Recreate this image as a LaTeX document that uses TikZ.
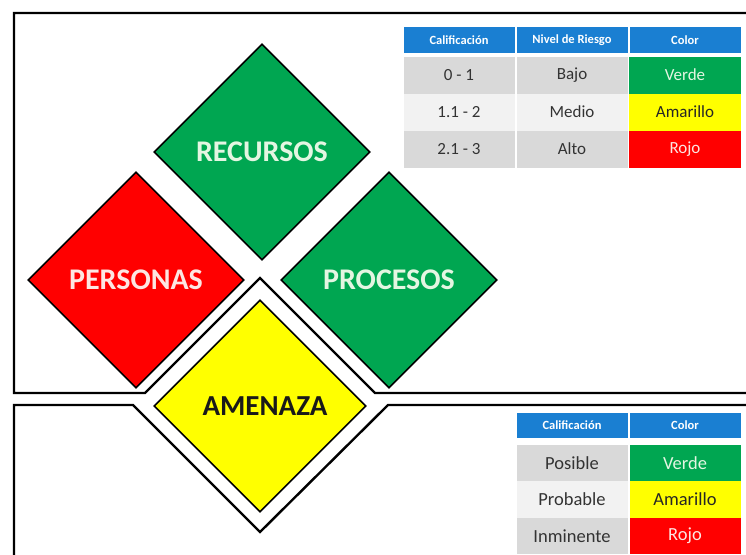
\documentclass[tikz,border=0pt]{standalone}
\usepackage{fontspec}
\setmainfont{Carlito}
\usetikzlibrary{shapes.geometric}
\definecolor{riskgreen}{HTML}{00A651}
\definecolor{riskred}{HTML}{FF0000}
\definecolor{riskyellow}{HTML}{FFFF00}
\definecolor{headblue}{HTML}{1A7FD2}
\definecolor{rowgray}{HTML}{D9D9D9}
\definecolor{rowlight}{HTML}{F2F2F2}
\definecolor{mintwhite}{HTML}{E4F6E2}
\definecolor{pinkwhite}{HTML}{FDE6E2}

\begin{document}
\begin{tikzpicture}[x=1pt,y=-1pt,
    frame/.style={line width=2.4pt,line join=miter},
    riskbox/.style={diamond,aspect=1,draw=black,line width=1.6pt,minimum size=216pt,
      inner sep=0pt,font=\fontsize{30}{30}\selectfont\bfseries},
    headcell/.style={fill=headblue,text=white,minimum width=111pt,inner sep=0pt,
      font=\fontsize{12.5}{13}\selectfont\bfseries},
    datacell/.style={minimum width=111pt,inner sep=0pt,text=black!80}
  ]
  \useasboundingbox (0,0) rectangle (746,554);

  % upper and lower frames
  \draw[frame] (746,13) -- (14,13) -- (14,393) -- (145,393) -- (260,278) -- (375,393) -- (746,393);
  \draw[frame] (14,556) -- (14,405) -- (133,405) -- (260,532) -- (388,405) -- (746,405);

  \node[riskbox,fill=riskgreen,text=mintwhite] (recursos) at (262,152) {RECURSOS};
  \node[riskbox,fill=riskred,text=pinkwhite] (personas) at (136,280) {PERSONAS};
  \node[riskbox,fill=riskgreen,text=mintwhite] (procesos) at (389,280) {PROCESOS};
  \node[riskbox,fill=riskyellow,text=black!90,minimum size=212pt,
    font=\fontsize{29}{29}\selectfont\bfseries] (amenaza) at (260,406) {\hspace*{10pt}AMENAZA};

  % nivel de riesgo
  \foreach \x/\c/\txt in {459/1/Calificación, 572/2/Nivel de Riesgo, 685/3/Color}
  {
    \node[headcell,minimum height=26pt] (ta-0-\c) at (\x,40) {\txt};
  }
  \foreach \y/\r/\val/\lvl/\col/\rowc/\colc/\txtc in
  {
    75/1/0 - 1/Bajo/Verde/rowgray/riskgreen/mintwhite,
    112/2/1.1 - 2/Medio/Amarillo/rowlight/riskyellow/black!85,
    149/3/2.1 - 3/Alto/Rojo/rowgray/riskred/pinkwhite}
  {
    \node[datacell,minimum height=37pt,fill=\rowc,font=\fontsize{17}{18}\selectfont] (ta-\r-1) at (459,\y) {\val};
    \node[datacell,minimum height=37pt,fill=\rowc,font=\fontsize{17}{18}\selectfont] (ta-\r-2) at (572,\y) {\lvl};
    \node[datacell,minimum height=37pt,minimum width=112pt,fill=\colc,text=\txtc,
      font=\fontsize{17}{18}\selectfont] (ta-\r-3) at (685,\y) {\col};
  }

  % amenaza
  \foreach \x/\c/\txt in {572/1/Calificación, 685/2/Color}
  {
    \node[headcell,minimum height=25pt] (tb-0-\c) at (\x,425.5) {\txt};
  }
  \foreach \y/\r/\val/\col/\rowc/\colc/\txtc in
  {
    463/1/Posible/Verde/rowgray/riskgreen/mintwhite,
    499.5/2/Probable/Amarillo/rowlight/riskyellow/black!85,
    536/3/Inminente/Rojo/rowgray/riskred/pinkwhite}
  {
    \node[datacell,minimum height=36.5pt,fill=\rowc,font=\fontsize{18.5}{19}\selectfont] (tb-\r-1) at (572,\y) {\val};
    \node[datacell,minimum height=36.5pt,fill=\colc,text=\txtc,
      font=\fontsize{18.5}{19}\selectfont] (tb-\r-2) at (685,\y) {\col};
  }
\end{tikzpicture}
\end{document}
